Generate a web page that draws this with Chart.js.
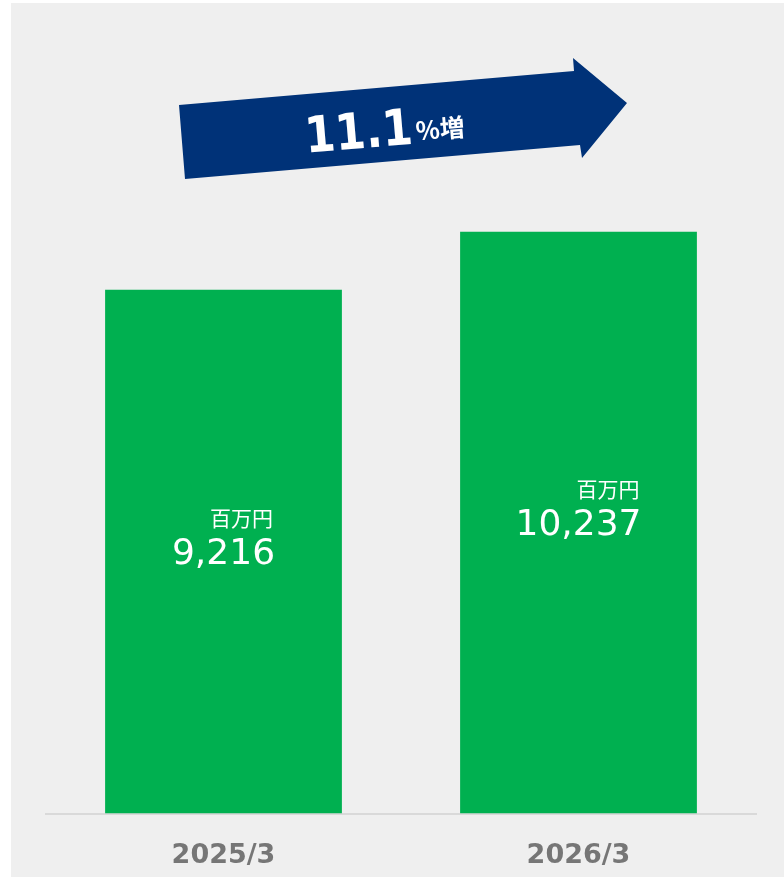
<!DOCTYPE html>
<html>
<head>
<meta charset="utf-8">
<script src="https://cdn.jsdelivr.net/npm/chart.js@4/dist/chart.umd.min.js"></script>
<style>
  html, body { margin: 0; padding: 0; background: #ffffff; }
  canvas { display: block; }
</style>
</head>
<body>
<canvas id="bar-chart" width="784" height="877"></canvas>
<script>
var categories = ["2025/3", "2026/3"];
var values = [9216, 10237];
var valueLabels = ["9,216", "10,237"];
var unitLabel = "百万円";
var growthNumber = "11.1";
var growthSuffix = "%増";

// grey panel behind the chart (white strip on the left and top)
var panelBg = {
  id: "panelBg",
  beforeDraw: function (chart) {
    var ctx = chart.ctx;
    ctx.save();
    ctx.fillStyle = "#ffffff";
    ctx.fillRect(0, 0, chart.width, chart.height);
    ctx.fillStyle = "#efefef";
    ctx.fillRect(11, 3, chart.width - 11, chart.height - 3);
    ctx.restore();
  }
};

// unit + value text inside each bar
var barText = {
  id: "barText",
  afterDatasetsDraw: function (chart) {
    var ctx = chart.ctx;
    var meta = chart.getDatasetMeta(0);
    ctx.save();
    ctx.fillStyle = "#ffffff";
    meta.data.forEach(function (bar, i) {
      var midY = (bar.y + bar.base) / 2 + 3;
      ctx.font = "36px 'DejaVu Sans'";
      ctx.textAlign = "center";
      ctx.textBaseline = "middle";
      ctx.fillText(valueLabels[i], bar.x, midY);
      var w = ctx.measureText(valueLabels[i]).width;
      ctx.font = "21px 'Noto Sans CJK JP'";
      ctx.textAlign = "right";
      ctx.fillText(unitLabel, bar.x + w / 2 - 2, midY - 37);
    });
    ctx.restore();
  }
};

// the navy growth arrow
var growthArrow = {
  id: "growthArrow",
  afterDraw: function (chart) {
    var ctx = chart.ctx;
    ctx.save();
    ctx.fillStyle = "#003278";
    ctx.beginPath();
    ctx.moveTo(179, 105);
    ctx.lineTo(574, 71);
    ctx.lineTo(573, 58);
    ctx.lineTo(627, 103);
    ctx.lineTo(582, 158);
    ctx.lineTo(580, 145);
    ctx.lineTo(185, 179);
    ctx.closePath();
    ctx.fill();

    ctx.translate(386, 146);
    ctx.rotate(-0.086);
    ctx.fillStyle = "#ffffff";
    ctx.textBaseline = "alphabetic";
    ctx.textAlign = "left";
    ctx.font = "bold 50px 'DejaVu Sans'";
    var w1 = ctx.measureText(growthNumber).width;
    ctx.font = "bold 25px 'Noto Sans CJK JP'";
    var w2 = ctx.measureText(growthSuffix).width;
    var sx = 108 / w1;
    var total = 108 + 3 + w2;
    ctx.save();
    ctx.translate(-total / 2, 0);
    ctx.scale(sx, 1);
    ctx.font = "bold 50px 'DejaVu Sans'";
    ctx.fillText(growthNumber, 0, 0);
    ctx.restore();
    ctx.font = "bold 25px 'Noto Sans CJK JP'";
    ctx.fillText(growthSuffix, -total / 2 + 111, -3);
    ctx.restore();
  }
};

new Chart(document.getElementById("bar-chart"), {
  type: "bar",
  data: {
    labels: categories,
    datasets: [{
      data: values,
      backgroundColor: "#00b050",
      barPercentage: 0.667,
      categoryPercentage: 1.0
    }]
  },
  options: {
    responsive: false,
    animation: false,
    layout: { padding: { left: 46, right: 28, top: 18, bottom: -21 } },
    plugins: {
      legend: { display: false },
      tooltip: { enabled: false }
    },
    scales: {
      x: {
        grid: { display: false, drawTicks: false },
        border: { display: true, color: "#d9d9d9", width: 2 },
        ticks: {
          color: "#767676",
          padding: 26,
          font: { family: "'DejaVu Sans'", size: 27, weight: "bold" }
        }
      },
      y: {
        display: false,
        min: 0,
        max: 14000
      }
    }
  },
  plugins: [panelBg, barText, growthArrow]
});
</script>
</body>
</html>
